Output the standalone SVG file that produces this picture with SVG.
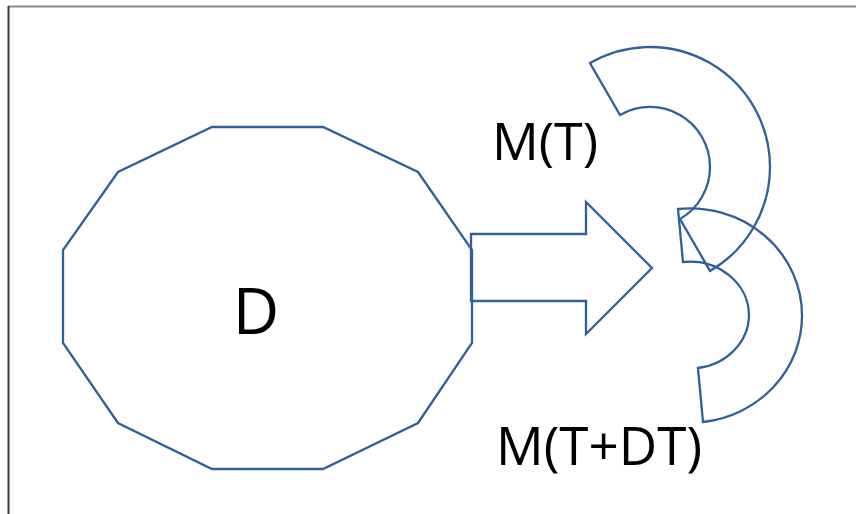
<svg xmlns="http://www.w3.org/2000/svg" width="856" height="514" viewBox="0 0 856 514">
<style>
.shape{fill:none;stroke:#335F98;stroke-width:2.3;stroke-linejoin:miter}
.lbl{font-family:"Open Sans","Liberation Sans",sans-serif;fill:#000}
</style>
<rect width="856" height="514" fill="#fff"/>
<g id="frame">
<line x1="8" y1="6.5" x2="856" y2="6.5" stroke="#8a8a8a" stroke-width="2"/>
<line x1="8.5" y1="6" x2="8.5" y2="514" stroke="#3c3c3c" stroke-width="2"/>
</g>
<g id="node-D">
<polygon class="shape" points="212,127 323,127 418,172 472,250 472,343 418,423 323,469 212,469 118,423 63,343 63,250 118,172"/>
<text class="lbl" x="256" y="334" font-size="64" text-anchor="middle">D</text>
</g>
<g id="connectors">
<polygon class="shape" points="471,234 586,234 586,202 652,268 586,334 586,301 471,301"/>
</g>
<g id="node-MT">
<path class="shape" d="M590 63.1 A120 120 0 0 1 770 167 A120 120 0 0 1 710 270.9 L680 219 A60 60 0 0 0 710 167 A60 60 0 0 0 620 115 Z"/>
<text class="lbl" x="492" y="160" font-size="52">M(T)</text>
</g>
<g id="node-MTDT">
<path class="shape" d="M678 209 A112 107 0 0 1 802 315 A112 107 0 0 1 703 422 L698 368 A59 54 0 0 0 749 315 A59 54 0 0 0 683 262 Z"/>
<text class="lbl" x="496" y="465" font-size="53">M(T+DT)</text>
</g>
</svg>
